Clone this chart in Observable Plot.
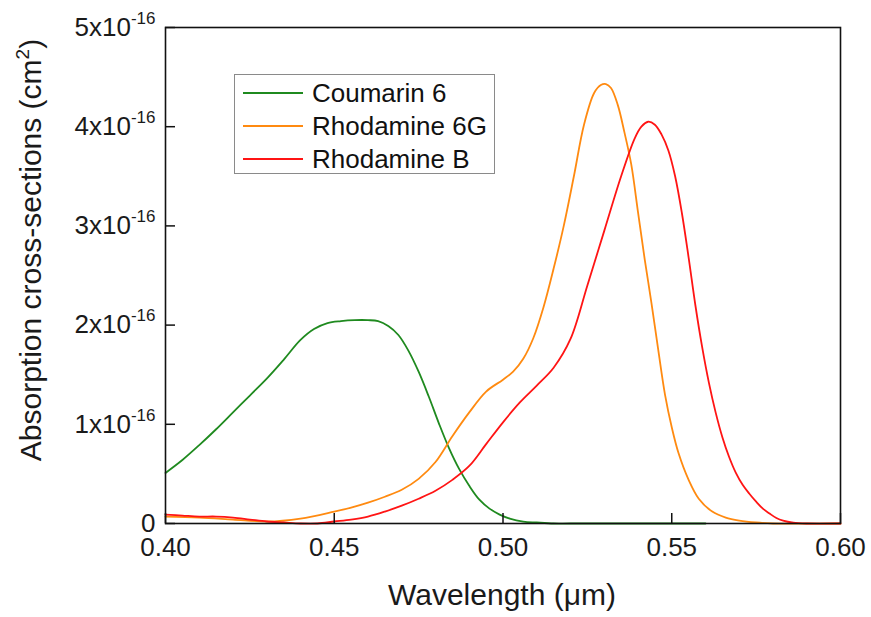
<!DOCTYPE html>
<html><head><meta charset="utf-8">
<script src="https://cdn.jsdelivr.net/npm/d3@7"></script>
<script src="https://cdn.jsdelivr.net/npm/@observablehq/plot@0.6"></script>
<style>
body{margin:0;background:#fff;}
#wrap{position:relative;width:871px;height:617px;font-family:"Liberation Sans",Arial,sans-serif;}
#wrap svg{position:absolute;left:0;top:0;}
#legend{position:absolute;left:234px;top:74px;width:259px;height:98px;border:1px solid #8a8a8a;background:#fff;}
.row{position:absolute;left:0;width:259px;height:30px;}
.sw{position:absolute;left:8px;top:14px;width:60px;height:0;border-top:2px solid;}
.lbl{position:absolute;left:77px;top:0;font-size:26px;color:#111;line-height:30px;white-space:nowrap;}
</style></head>
<body>
<div id="wrap"><div id="legend"></div></div>
<script>
// Series names and colours
const seriesNames = ["Coumarin 6", "Rhodamine 6G", "Rhodamine B"];
const seriesColors = ["#1f8a1f", "#ff8a10", "#ff1414"];

// Coumarin 6 (wavelength in µm, cross-section in units of 1e-16 cm^2)
const coumarinX = [0.400,0.405,0.410,0.415,0.420,0.425,0.430,0.435,0.440,0.444,0.448,0.452,0.456,0.460,0.463,0.466,0.469,0.472,0.475,0.478,0.481,0.484,0.487,0.490,0.493,0.496,0.499,0.502,0.506,0.510,0.515,0.520,0.560];
const coumarinY = [0.51,0.64,0.79,0.95,1.12,1.29,1.46,1.65,1.85,1.96,2.02,2.04,2.05,2.05,2.04,1.99,1.90,1.74,1.53,1.28,1.01,0.76,0.55,0.38,0.24,0.15,0.09,0.05,0.02,0.01,0.00,0.00,0.00];

// Rhodamine 6G
const r6gX = [0.400,0.410,0.420,0.430,0.440,0.450,0.455,0.460,0.465,0.470,0.475,0.480,0.485,0.490,0.495,0.500,0.503,0.506,0.509,0.512,0.515,0.518,0.521,0.524,0.527,0.529,0.5305,0.532,0.534,0.536,0.538,0.540,0.542,0.544,0.546,0.548,0.550,0.552,0.555,0.558,0.562,0.566,0.570,0.575,0.580,0.600];
const r6gY = [0.07,0.06,0.04,0.02,0.05,0.12,0.16,0.21,0.27,0.34,0.45,0.62,0.88,1.12,1.33,1.45,1.53,1.66,1.87,2.18,2.57,3.00,3.50,4.02,4.34,4.42,4.43,4.39,4.22,3.94,3.62,3.14,2.66,2.22,1.75,1.30,0.97,0.71,0.44,0.25,0.12,0.06,0.03,0.01,0.00,0.00];

// Rhodamine B
const rbX = [0.400,0.405,0.410,0.415,0.420,0.425,0.430,0.435,0.440,0.445,0.450,0.455,0.460,0.465,0.470,0.475,0.480,0.485,0.490,0.495,0.500,0.505,0.510,0.515,0.520,0.525,0.530,0.535,0.539,0.541,0.543,0.545,0.547,0.549,0.551,0.553,0.555,0.557,0.559,0.561,0.563,0.565,0.567,0.569,0.571,0.573,0.575,0.577,0.579,0.581,0.583,0.586,0.590,0.600];
const rbY = [0.09,0.08,0.07,0.07,0.06,0.04,0.02,0.01,0.00,0.00,0.02,0.04,0.07,0.12,0.18,0.25,0.33,0.44,0.58,0.80,1.02,1.22,1.39,1.57,1.86,2.40,2.95,3.50,3.88,4.00,4.05,4.02,3.92,3.76,3.50,3.13,2.68,2.20,1.78,1.42,1.12,0.87,0.67,0.51,0.39,0.30,0.22,0.15,0.10,0.055,0.028,0.008,0.00,0.00];

// Ticks
const xTicks = [0.40,0.45,0.50,0.55,0.60];
const yTicks = [0,1,2,3,4,5];
const yTickBase = ["0","1x10","2x10","3x10","4x10","5x10"];
const yTickExp = "-16";

const xs = [coumarinX, r6gX, rbX];
const ys = [coumarinY, r6gY, rbY];
const rows = [];
seriesNames.forEach((name, i) => xs[i].forEach((x, j) => rows.push({series: name, x, y: ys[i][j]})));

const font = '"Liberation Sans", Arial, sans-serif';
const chart = Plot.plot({
  width: 871, height: 617,
  marginLeft: 165, marginRight: 31, marginTop: 27, marginBottom: 94,
  style: {fontFamily: font, color: "#111", background: "#fff"},
  x: {domain: [0.40, 0.60]},
  y: {domain: [0, 5]},
  color: {domain: seriesNames, range: seriesColors},
  marks: [
    Plot.line(rows, {x: "x", y: "y", z: "series", stroke: "series", strokeWidth: 1.8, curve: "catmull-rom"}),
    Plot.axisX(xTicks, {tickSize: -10, tickFormat: () => "", label: null, stroke: "#111", strokeWidth: 1.5}),
    Plot.axisX(xTicks, {tickSize: 0, tickPadding: 14, tickFormat: d3.format(".2f"), label: null, fontSize: 26, fill: "#1a1a1a"}),
    Plot.axisY(yTicks, {tickSize: -10, tickFormat: () => "", label: null, stroke: "#111", strokeWidth: 1.5}),
    Plot.axisY(yTicks, {tickSize: 0, tickPadding: 10, tickFormat: (d) => yTickBase[yTicks.indexOf(d)], label: null, fontSize: 26, fill: "#1a1a1a"}),
    Plot.frame({stroke: "#111", strokeWidth: 1.6})
  ]
});
const wrap = document.getElementById("wrap");
wrap.insertBefore(chart, wrap.firstChild);

const svg = d3.select(chart);
// superscript exponents on y tick labels
svg.selectAll('g[aria-label="y-axis tick label"] text').each(function () {
  const t = d3.select(this);
  const s = t.text();
  if (s !== "" && s !== "0") {
    t.append("tspan").attr("dy", -12).attr("font-size", 17).text(yTickExp);
  }
});
// axis titles
svg.append("text").attr("x", 502).attr("y", 605).attr("text-anchor", "middle")
  .attr("font-size", 30).attr("fill", "#1a1a1a").attr("font-family", font).text("Wavelength (\u03bcm)");
const yt = svg.append("text").attr("transform", "translate(41,250) rotate(-90)").attr("text-anchor", "middle")
  .attr("font-size", 30).attr("fill", "#1a1a1a").attr("font-family", font);
yt.append("tspan").text("Absorption cross-sections (cm");
yt.append("tspan").attr("dy", -12).attr("font-size", 19).text("2");
yt.append("tspan").attr("dy", 12).text(")");

// legend
const legend = d3.select("#legend");
seriesNames.forEach((name, i) => {
  const r = legend.append("div").attr("class", "row").style("top", (3 + i * 33) + "px");
  r.append("div").attr("class", "sw").style("border-top-color", seriesColors[i]);
  r.append("div").attr("class", "lbl").text(name);
});
</script>
</body></html>
